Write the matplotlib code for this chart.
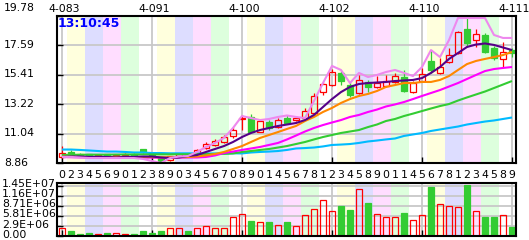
import matplotlib
matplotlib.use("Agg")
import matplotlib.pyplot as plt
from matplotlib.patches import Rectangle
import matplotlib.transforms as mtransforms

# ---------------- data ----------------
opens = [9.27, 9.71, 9.55, 9.50, 9.38, 9.50, 9.38, 9.42, 9.55, 9.88,
         9.60, 9.25, 9.05, 9.35, 9.55, 9.58, 9.97, 10.20, 10.42, 10.83,
         12.16, 12.30, 11.19, 11.93, 11.56, 12.23, 12.05, 12.24, 12.57, 14.10,
         14.69, 15.55, 14.65, 14.04, 14.90, 14.48, 14.60, 14.90, 15.27, 14.16,
         14.95, 16.44, 15.52, 16.39, 17.01, 18.82, 18.00, 18.37, 17.43, 16.56,
         17.26]
highs = [10.09, 9.79, 9.60, 9.55, 9.52, 9.55, 9.52, 9.58, 9.60, 9.92,
         9.65, 9.30, 9.40, 9.62, 9.60, 9.90, 10.42, 10.64, 10.94, 11.53,
         12.43, 12.50, 12.13, 12.05, 12.20, 12.39, 12.35, 12.95, 14.06, 14.91,
         15.84, 15.73, 14.90, 15.40, 15.03, 15.32, 15.40, 15.55, 15.77, 14.95,
         15.90, 17.25, 16.68, 17.38, 18.67, 19.68, 18.79, 18.50, 17.55, 17.87,
         17.38]
lows = [9.23, 9.42, 9.40, 9.36, 9.34, 9.36, 9.35, 9.40, 9.42, 9.62,
        9.30, 8.92, 9.00, 9.30, 9.42, 9.52, 9.90, 10.12, 10.35, 10.72,
        11.31, 11.13, 11.16, 11.31, 11.46, 11.72, 11.98, 12.17, 12.50, 13.91,
        14.58, 14.65, 13.79, 13.99, 14.16, 14.41, 14.54, 14.84, 14.16, 14.06,
        14.92, 15.57, 15.47, 16.27, 16.96, 17.50, 17.50, 17.01, 16.51, 16.01,
        16.76]
closes = [9.60, 9.49, 9.45, 9.40, 9.46, 9.40, 9.48, 9.52, 9.46, 9.70,
          9.35, 9.00, 9.35, 9.55, 9.48, 9.83, 10.27, 10.53, 10.79, 11.31,
          12.20, 11.19, 11.98, 11.44, 12.08, 11.83, 12.17, 12.76, 13.87, 14.73,
          15.64, 14.95, 13.91, 15.03, 14.53, 14.83, 14.95, 15.32, 14.23, 14.83,
          15.47, 15.77, 15.97, 16.88, 18.57, 17.80, 18.42, 17.13, 16.64, 17.13,
          17.01]
volumes = [2.2e6, 1.5e6, 0.6e6, 1.0e6, 0.6e6, 1.0e6, 0.8e6, 0.6e6, 0.7e6, 1.45e6,
           1.0e6, 1.45e6, 2.2e6, 2.45e6, 1.45e6, 2.2e6, 2.8e6, 2.2e6, 2.2e6, 5.4e6,
           6.4e6, 4.35e6, 4.2e6, 4.1e6, 3.1e6, 4.1e6, 2.8e6, 6.0e6, 7.7e6, 10.3e6,
           7.2e6, 8.75e6, 7.5e6, 13.5e6, 9.6e6, 6.3e6, 5.4e6, 5.4e6, 6.7e6, 4.5e6,
           6.0e6, 14.2e6, 9.3e6, 8.6e6, 8.3e6, 14.8e6, 7.2e6, 5.5e6, 5.5e6, 6.0e6,
           2.6e6]

ma_purple = [9.31, 9.34, 9.34, 9.31, 9.31, 9.31, 9.27, 9.31, 9.31, 9.34,
             9.34, 9.27, 9.23, 9.27, 9.38, 9.45, 9.68, 9.90, 10.12, 10.42,
             10.79, 11.09, 11.31, 11.46, 11.61, 11.72, 11.83, 12.05, 12.43, 13.02,
             13.61, 14.13, 14.51, 14.73, 14.80, 14.84, 14.88, 14.95, 14.99, 15.03,
             15.17, 15.55, 15.99, 16.59, 17.03, 17.48, 17.66, 17.74, 17.63, 17.44,
             17.25]
ma_orange = [9.33, 9.32, 9.31, 9.30, 9.30, 9.30, 9.30, 9.29, 9.29, 9.30,
             9.30, 9.29, 9.28, 9.29, 9.30, 9.34, 9.42, 9.53, 9.68, 9.90,
             10.12, 10.42, 10.72, 10.94, 11.16, 11.39, 11.61, 11.98, 12.28, 12.65,
             12.95, 13.32, 13.61, 13.84, 13.99, 14.21, 14.51, 14.65, 14.80, 14.80,
             14.88, 14.88, 15.03, 15.32, 15.77, 16.21, 16.44, 16.59, 16.73, 16.88,
             17.11]
ma_magenta = [9.30, 9.29, 9.28, 9.28, 9.27, 9.27, 9.27, 9.27, 9.26, 9.26,
              9.26, 9.25, 9.25, 9.26, 9.27, 9.27, 9.31, 9.42, 9.60, 9.71,
              9.83, 9.94, 10.05, 10.20, 10.35, 10.61, 10.90, 11.20, 11.46, 11.68,
              11.87, 12.05, 12.28, 12.43, 12.65, 12.83, 13.06, 13.21, 13.39, 13.61,
              13.84, 14.06, 14.28, 14.54, 14.80, 15.10, 15.40, 15.69, 15.84, 15.92,
              15.99]
ma_green = [9.46, 9.47, 9.47, 9.48, 9.48, 9.48, 9.49, 9.49, 9.49, 9.50,
            9.50, 9.50, 9.50, 9.51, 9.51, 9.52, 9.52, 9.53, 9.54, 9.57,
            9.68, 9.75, 9.83, 9.90, 10.01, 10.12, 10.27, 10.42, 10.61, 10.79,
            10.94, 11.09, 11.20, 11.31, 11.53, 11.72, 11.98, 12.13, 12.35, 12.53,
            12.72, 12.91, 13.09, 13.24, 13.50, 13.73, 13.95, 14.17, 14.43, 14.69,
            14.95]
ma_cyan = [9.86, 9.86, 9.83, 9.79, 9.75, 9.71, 9.71, 9.68, 9.64, 9.64,
           9.60, 9.60, 9.58, 9.58, 9.58, 9.57, 9.57, 9.57, 9.57, 9.58,
           9.57, 9.64, 9.68, 9.71, 9.75, 9.83, 9.94, 9.97, 10.01, 10.09,
           10.20, 10.23, 10.27, 10.35, 10.46, 10.53, 10.61, 10.68, 10.87, 10.98,
           11.09, 11.24, 11.35, 11.46, 11.57, 11.72, 11.83, 11.94, 12.02, 12.13,
           12.24]
ma_violet = [9.31, 9.31, 9.27, 9.23, 9.23, 9.23, 9.23, 9.23, 9.23, 9.16,
             9.01, 8.86, 9.23, 9.34, 9.38, 9.68, 10.05, 10.35, 10.72, 11.46,
             12.35, 12.20, 12.05, 12.13, 12.28, 12.39, 12.28, 12.20, 13.47, 14.80,
             16.07, 15.77, 14.80, 15.55, 15.25, 15.40, 15.62, 15.77, 15.55, 15.32,
             15.99, 17.25, 16.73, 17.99, 19.63, 19.63, 19.63, 19.63, 18.37, 18.15,
             18.15]

x_digits = ("0 2 3 4 5 6 9 0 1 2 3 8 9 0 3 4 5 6 7 0 8 9 0 1 4 5 6 "
            "7 8 1 2 3 4 5 8 9 0 1 1 4 5 6 7 8 1 2 3 4 5 8 9").split()
top_labels = ["4-083", "4-091", "4-100", "4-102", "4-110", "4-111"]
top_label_idx = [0, 10, 20, 30, 40, 50]
price_ticks = [8.86, 11.04, 13.22, 15.41, 17.59, 19.78]
price_tick_labels = ["8.86", "11.04", "13.22", "15.41", "17.59", "19.78"]
vol_ticks = [0, 2.9e6, 5.81e6, 8.71e6, 1.16e7, 1.45e7]
vol_tick_labels = ["0.00", "2.9E+06", "5.81E+06", "8.71E+06", "1.16E+07", "1.45E+07"]
time_label = "13:10:45"

# ---------------- styles ----------------
W, H = 529, 240
UP = '#FF0000'
DOWN = '#33CC33'
GRID = '#C8C8C8'
STRIPES = ['#FFFFFF', '#FFFFDD', '#DDDDFF', '#FFDDFF', '#DDFFDD']
FS = 7.8
plt.rcParams['font.family'] = ['DejaVu Sans']

fig = plt.figure(figsize=(W / 100, H / 100), dpi=100)
fig.patch.set_facecolor('white')


def axes_px(l, t, r, b):
    return fig.add_axes([l / W, 1 - b / H, (r - l) / W, (b - t) / H])


ax = axes_px(57, 16, 516, 163)
axv = axes_px(57, 183, 516, 236)

n = len(closes)
xs = list(range(n))
xmin, xmax = -5 / 9, (516 - 62) / 9
BW = 0.56

for a in (ax, axv):
    a.set_xlim(xmin, xmax)
    s, j = -1.5, 0
    while s < xmax:
        a.axvspan(s, s + 2, color=STRIPES[j % 5], lw=0, zorder=0)
        s += 2
        j += 1
    for g in top_label_idx:
        a.axvline(g, color=GRID, lw=1.3, zorder=1)
    for sp in a.spines.values():
        sp.set_linewidth(1.5)
        sp.set_color('black')
        sp.set_zorder(10)
    a.set_xticks(top_label_idx)
    a.set_xticklabels([])
    a.tick_params(axis='x', direction='in', length=4, width=1, bottom=True, top=False)
    a.tick_params(axis='y', direction='in', length=4.3, width=1, left=True,
                  right=False, labelleft=False)

# price panel
ax.set_ylim(price_ticks[0], price_ticks[-1])
ax.set_yticks(price_ticks)
for v in price_ticks:
    ax.axhline(v, color=GRID, lw=1.3, zorder=1)

for i in xs:
    o, h, l, c = opens[i], highs[i], lows[i], closes[i]
    up = c >= o
    top, bot = max(o, c), min(o, c)
    if up:
        ax.vlines(i, top, h, color=UP, lw=0.9, zorder=2)
        ax.vlines(i, l, bot, color=UP, lw=0.9, zorder=2)
        ax.add_patch(Rectangle((i - BW / 2, bot), BW, max(top - bot, 0.01),
                               fill=False, edgecolor=UP, lw=0.9, zorder=2))
    else:
        ax.vlines(i, l, h, color=DOWN, lw=0.9, zorder=2)
        ax.add_patch(Rectangle((i - BW / 2, bot), BW, max(top - bot, 0.01),
                               facecolor=DOWN, edgecolor=DOWN, lw=0.9, zorder=2))

for series, col in [(ma_cyan, '#00BBFF'), (ma_green, '#33CC33'),
                    (ma_magenta, '#FF00FF'), (ma_orange, '#FF8800'),
                    (ma_purple, '#550088'), (ma_violet, '#EE88EE')]:
    ax.plot(xs, series, color=col, lw=1.5, zorder=3, solid_capstyle='butt')

# volume panel
axv.set_ylim(0, 1.45e7 * 53 / 50)
axv.set_yticks(vol_ticks)
for v in vol_ticks:
    axv.axhline(v, color=GRID, lw=1.3, zorder=1)
for i in xs:
    up = closes[i] >= opens[i]
    if up:
        axv.add_patch(Rectangle((i - BW / 2, 0), BW, volumes[i], fill=False,
                                edgecolor=UP, lw=0.9, zorder=2))
    else:
        axv.add_patch(Rectangle((i - BW / 2, 0), BW, volumes[i], facecolor=DOWN,
                                edgecolor=DOWN, lw=0.9, zorder=2))

# ---------------- texts ----------------
def off(dx_px, dy_px):
    return mtransforms.ScaledTranslation(dx_px / 100, -dy_px / 100, fig.dpi_scale_trans)

tr_price = mtransforms.blended_transform_factory(fig.transFigure, ax.transData)
for v, lab in zip(price_ticks, price_tick_labels):
    dy = -9 if v == price_ticks[-1] else -1.5
    fig.text(4 / W, v, lab, transform=tr_price + off(0, dy), ha='left',
             va='center_baseline', fontsize=FS, color='black')

tr_vol = mtransforms.blended_transform_factory(fig.transFigure, axv.transData)
for v, lab in zip(vol_ticks, vol_tick_labels):
    fig.text(2 / W, v, lab, transform=tr_vol + off(0, -2.5), ha='left',
             va='center_baseline', fontsize=FS, color='black')

tr_top = mtransforms.blended_transform_factory(ax.transData, fig.transFigure)
for idx, lab in zip(top_label_idx, top_labels):
    fig.text(idx, 1 - 8 / H, lab, transform=tr_top + off(2, 0), ha='center',
             va='center_baseline', fontsize=FS, color='black')

for i, d in enumerate(x_digits):
    fig.text(i, 1 - 174 / H, d, transform=tr_top, ha='center',
             va='center_baseline', fontsize=FS, color='black')

fig.text(58 / W, 1 - 22 / H, time_label, ha='left', va='center_baseline',
         fontsize=9, fontweight='bold', color='#0000FF')

fig.savefig('out.png', dpi=100)
